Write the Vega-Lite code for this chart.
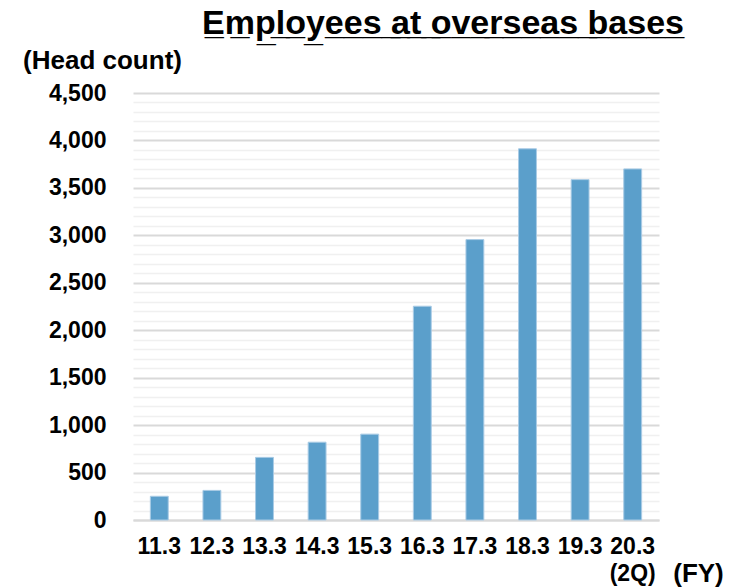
{
  "$schema": "https://vega.github.io/schema/vega-lite/v6.json",
  "width": 526,
  "height": 427,
  "autosize": {"type": "none"},
  "padding": {"left": 133, "top": 93, "right": 71, "bottom": 67},
  "background": "white",
  "title": {
    "text": "E̲m̲p̲l̲o̲y̲e̲e̲s̲ ̲a̲t̲ ̲o̲v̲e̲r̲s̲e̲a̲s̲ ̲b̲a̲s̲e̲s̲",
    "font": "Liberation Sans",
    "fontSize": 34,
    "fontWeight": "bold",
    "color": "#000000",
    "anchor": "middle",
    "frame": "group",
    "dx": 47,
    "dy": -2
  },
  "data": {
    "values": [
      {"fy": "11.3", "employees": 250},
      {"fy": "12.3", "employees": 312},
      {"fy": "13.3", "employees": 660},
      {"fy": "14.3", "employees": 820},
      {"fy": "15.3", "employees": 905},
      {"fy": "16.3", "employees": 2253},
      {"fy": "17.3", "employees": 2955},
      {"fy": "18.3", "employees": 3912},
      {"fy": "19.3", "employees": 3587},
      {"fy": "20.3", "employees": 3700}
    ]
  },
  "mark": {"type": "bar", "color": "#5b9fcb", "stroke": "#a9cbe5", "strokeWidth": 1},
  "encoding": {
    "x": {
      "field": "fy",
      "type": "nominal",
      "sort": null,
      "scale": {"paddingInner": 0.66, "paddingOuter": 0.33},
      "axis": {
        "title": "(FY)",
        "titleFont": "Liberation Sans",
        "titleFontSize": 26,
        "titleFontWeight": "bold",
        "titleColor": "#000000",
        "titleX": 565,
        "titleY": 53,
        "titleAlign": "center",
        "titleBaseline": "middle",
        "labelAngle": 0,
        "labelFont": "Liberation Sans",
        "labelFontSize": 23,
        "labelFontWeight": "bold",
        "labelColor": "#000000",
        "labelPadding": 15,
        "labelLineHeight": 27,
        "labelExpr": "datum.value == '20.3' ? ['20.3', '(2Q)'] : datum.label",
        "ticks": false,
        "domainColor": "#d9d9d9",
        "domainWidth": 2,
        "grid": false
      }
    },
    "y": {
      "field": "employees",
      "type": "quantitative",
      "scale": {"domain": [0, 4500], "nice": false},
      "axis": {
        "title": "(Head count)",
        "titleFont": "Liberation Sans",
        "titleFontSize": 26,
        "titleFontWeight": "bold",
        "titleColor": "#000000",
        "titleAngle": 0,
        "titleX": -31,
        "titleY": -33,
        "titleAlign": "center",
        "titleBaseline": "middle",
        "values": [0,100,200,300,400,500,600,700,800,900,1000,1100,1200,1300,1400,1500,1600,1700,1800,1900,2000,2100,2200,2300,2400,2500,2600,2700,2800,2900,3000,3100,3200,3300,3400,3500,3600,3700,3800,3900,4000,4100,4200,4300,4400,4500],
        "labelExpr": "datum.value % 500 == 0 ? format(datum.value, ',') : ''",
        "labelFont": "Liberation Sans",
        "labelFontSize": 23,
        "labelFontWeight": "bold",
        "labelColor": "#000000",
        "labelPadding": 27,
        "ticks": false,
        "domain": false,
        "grid": true,
        "gridColor": {"condition": {"test": "datum.value % 500 == 0", "value": "#d9d9d9"}, "value": "#f0f0f0"},
        "gridWidth": {"condition": {"test": "datum.value % 500 == 0", "value": 2}, "value": 1.5}
      }
    }
  },
  "config": {"view": {"stroke": null}}
}
